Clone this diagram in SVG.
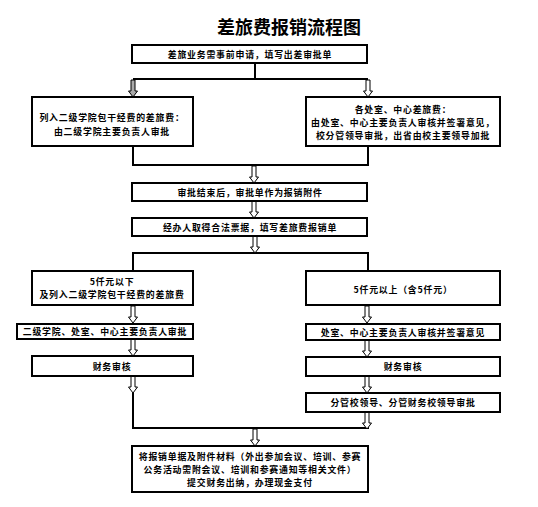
<svg xmlns="http://www.w3.org/2000/svg" width="538" height="507" viewBox="0 0 538 507">
<style>
.box{fill:#fff;stroke:#000;stroke-width:2}
.ln{fill:none;stroke:#000;stroke-width:2}
.t{font-family:"Noto Sans CJK SC","Noto Sans CJK JP",sans-serif;font-size:8.9px;letter-spacing:0.8px;font-weight:bold;fill:#000;text-anchor:middle;dominant-baseline:central}
.title{font-family:"Noto Sans CJK SC","Noto Sans CJK JP",sans-serif;font-size:18px;font-weight:bold;fill:#000;text-anchor:middle;dominant-baseline:central}
.ar{fill:#fff;stroke:#000;stroke-width:1}
</style>
<defs>
<path id="arrow" d="M-2,0 H2 V11 H4.5 L0,17 L-4.5,11 H-2 Z"/>
</defs>
<rect width="538" height="507" fill="#fff"/>
<text class="title" x="289" y="25.5">差旅费报销流程图</text>

<g id="connectors">
<path class="ln" d="M255,63 V79 M133,79 H368"/>
<path class="ln" d="M133,146 V165 H368 V146"/>
<path class="ln" d="M133,271 V253 H368 V271"/>
<path class="ln" d="M133,376 V428 H368 V412"/>
<use href="#arrow" class="ar" x="133" y="80" style="fill:#aaa"/>
<use href="#arrow" class="ar" x="368" y="80"/>
<use href="#arrow" class="ar" x="254" y="166"/>
<use href="#arrow" class="ar" x="254" y="201"/>
<use href="#arrow" class="ar" x="255" y="236"/>
<use href="#arrow" class="ar" x="133" y="306"/>
<use href="#arrow" class="ar" x="133" y="339"/>
<use href="#arrow" class="ar" x="133" y="376"/>
<use href="#arrow" class="ar" x="367" y="306"/>
<use href="#arrow" class="ar" x="367" y="340"/>
<use href="#arrow" class="ar" x="367" y="376"/>
<use href="#arrow" class="ar" x="367" y="412"/>
<use href="#arrow" class="ar" x="255" y="429"/>
</g>

<g id="n1"><rect class="box" x="132" y="45" width="235" height="18"/><text class="t" x="250" y="54">差旅业务需事前申请，填写出差审批单</text></g>
<g id="n2"><rect class="box" x="32" y="97" width="161" height="49"/><text class="t" x="112" y="117">列入二级学院包干经费的差旅费：</text><text class="t" x="112" y="131">由二级学院主要负责人审批</text></g>
<g id="n3"><rect class="box" x="306" y="97" width="194" height="49"/><text class="t" x="403" y="109">各处室、中心差旅费：</text><text class="t" x="403" y="122">由处室、中心主要负责人审核并签署意见，</text><text class="t" x="403" y="135">校分管领导审批，出省由校主要领导加批</text></g>
<g id="n4"><rect class="box" x="132" y="183" width="235" height="18"/><text class="t" x="250" y="192">审批结束后，审批单作为报销附件</text></g>
<g id="n5"><rect class="box" x="132" y="218" width="235" height="18"/><text class="t" x="250" y="227">经办人取得合法票据，填写差旅费报销单</text></g>
<g id="n6"><rect class="box" x="32" y="271" width="161" height="34"/><text class="t" x="112" y="281.5">5仟元以下</text><text class="t" x="112" y="294.5">及列入二级学院包干经费的差旅费</text></g>
<g id="n7"><rect class="box" x="306" y="271" width="194" height="34"/><text class="t" x="403" y="289">5仟元以上（含5仟元）</text></g>
<g id="n8"><rect class="box" x="17" y="324" width="176" height="15"/><text class="t" x="105" y="331.5">二级学院、处室、中心主要负责人审批</text></g>
<g id="n9"><rect class="box" x="32" y="356" width="161" height="20"/><text class="t" x="112" y="366">财务审核</text></g>
<g id="n10"><rect class="box" x="306" y="324" width="194" height="16"/><text class="t" x="403" y="332">处室、中心主要负责人审核并签署意见</text></g>
<g id="n11"><rect class="box" x="306" y="357" width="194" height="19"/><text class="t" x="403" y="366.5">财务审核</text></g>
<g id="n12"><rect class="box" x="306" y="393" width="194" height="19"/><text class="t" x="403" y="402.5">分管校领导、分管财务校领导审批</text></g>
<g id="n13"><rect class="box" x="132" y="446" width="236" height="46"/><text class="t" x="250" y="456">将报销单据及附件材料（外出参加会议、培训、参赛</text><text class="t" x="250" y="469">公务活动需附会议、培训和参赛通知等相关文件）</text><text class="t" x="250" y="482">提交财务出纳，办理现金支付</text></g>
</svg>
